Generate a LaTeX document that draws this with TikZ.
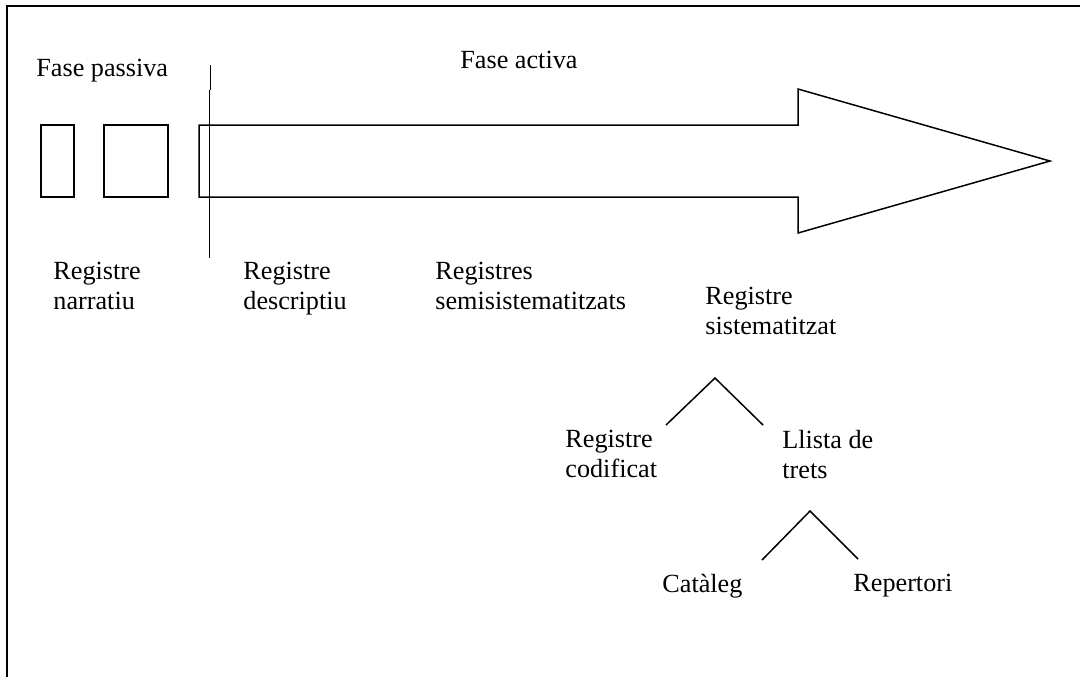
\documentclass[tikz,border=0pt]{standalone}
\usepackage{fontspec}
\setmainfont{Liberation Serif}
\usetikzlibrary{positioning}
\usetikzlibrary{calc}

\begin{document}
\begin{tikzpicture}[x=0.5pt,y=-0.5pt]
\tikzstyle{label} =[anchor=north west,inner sep=0pt,align=left,font=\fontsize{13.1}{15}\selectfont]
\tikzstyle{line} =[draw=black,line width=0.75pt]
\useasboundingbox (0,0) rectangle (1080,677);
% frame
\draw[line width=1pt] (7,677)--(7,6)--(1080,6);

% passive phase
\node[label](passiva) at (36,59) {Fase passiva};
\draw[line] (41,125) rectangle (74,197);
\draw[line] (104,125) rectangle (168,197);

% big arrow
\draw[line,line join=miter] (199,125)--(798,125)--(798,89)--(1050,161)--(798,233)--(798,197)--(199,197)--cycle;
\node[label](activa) at (460,51) {Fase activa};

% border between phases
\draw[draw=black,line width=0.4pt] (210.5,65)--(210.5,90);
\draw[line] (209.5,90)--(209.5,258);

\node[label](narratiu) at (53,262) {Registre\\narratiu};
\node[label](descriptiu) at (243,262) {Registre\\descriptiu};
\node[label](semi) at (435,262) {Registres\\semisistematitzats};
\node[label](sistem) at (705,287) {Registre\\sistematitzat};

% first split
\coordinate (top1) at (715,378);
\coordinate (left1) at (666,425);
\coordinate (right1) at (763,425);
\draw[line] (left1)--(top1)--(right1);
\node[label](codificat) at (565,430) {Registre\\codificat};
\node[label](trets) at (782,430) {Llista de\\trets};

% second split
\coordinate (top2) at (810,511);
\coordinate (left2) at (762,560);
\coordinate (right2) at (858,559);
\draw[line] (left2)--(top2)--(right2);
\node[label](cataleg) at (662,574) {Catàleg};
\node[label](repertori) at (853,574) {Repertori};
\end{tikzpicture}
\end{document}
